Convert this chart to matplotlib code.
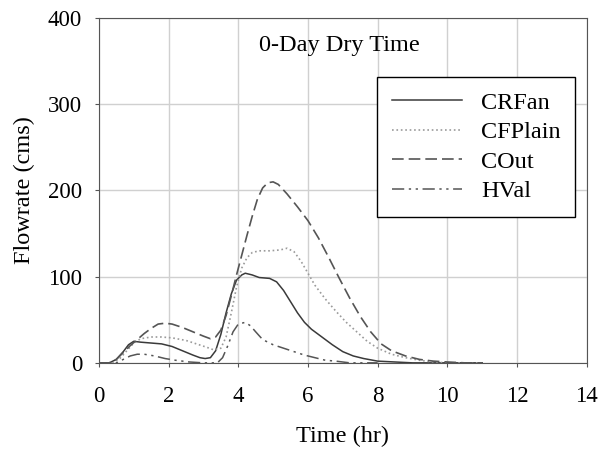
import matplotlib
matplotlib.use('Agg')
import matplotlib.pyplot as plt

plt.rcParams['font.family'] = ['Liberation Serif', 'DejaVu Serif']

# Hydrographs (time in hr, flowrate in cms)
t_crfan = [0.0, 0.3, 0.5, 0.7, 0.85, 1.0, 1.2, 1.5, 1.8, 2.1, 2.4, 2.7, 2.9, 3.05, 3.2, 3.35, 3.5, 3.65, 3.8, 3.95, 4.1, 4.2, 4.4, 4.6, 4.9, 5.1, 5.3, 5.5, 5.7, 5.9, 6.1, 6.4, 6.7, 7.0, 7.3, 7.6, 8.0, 8.5, 9.0, 10.0, 11.0]
q_crfan = [0, 0, 4, 13, 21, 25, 24, 23, 22, 19, 14, 9, 6, 5, 6, 14, 33, 58, 80, 96, 102, 104, 102, 99, 98, 94, 84, 71, 58, 47, 39, 30, 21, 13, 8, 5, 2, 1, 0, 0, 0]

t_cfplain = [0.0, 0.4, 0.6, 0.8, 1.0, 1.2, 1.5, 1.8, 2.1, 2.5, 2.8, 3.1, 3.3, 3.5, 3.65, 3.8, 3.95, 4.1, 4.25, 4.4, 4.6, 4.9, 5.2, 5.4, 5.6, 5.8, 6.0, 6.2, 6.5, 6.8, 7.1, 7.4, 7.7, 8.0, 8.4, 8.8, 9.2, 9.6, 10.0, 11.0]
q_cfplain = [0, 0, 5, 14, 23, 28, 30, 30, 29, 26, 22, 18, 15, 17, 30, 58, 88, 110, 122, 128, 130, 130, 131, 133, 129, 118, 104, 90, 74, 60, 47, 36, 25, 17, 10, 6, 3, 1, 0, 0]

t_cout = [0.0, 0.3, 0.5, 0.7, 0.9, 1.1, 1.3, 1.5, 1.7, 1.9, 2.1, 2.4, 2.7, 3.0, 3.2, 3.35, 3.5, 3.65, 3.8, 3.95, 4.1, 4.25, 4.4, 4.55, 4.7, 4.85, 5.0, 5.15, 5.4, 5.7, 6.0, 6.3, 6.6, 6.9, 7.2, 7.5, 7.8, 8.1, 8.4, 8.8, 9.2, 9.6, 10.0, 10.5, 11.0]
q_cout = [0, 0, 4, 12, 20, 27, 34, 40, 45, 46, 45, 41, 36, 31, 28, 30, 38, 55, 78, 102, 125, 148, 170, 190, 203, 209, 210, 207, 196, 181, 165, 145, 122, 98, 75, 54, 36, 22, 14, 8, 4, 2, 1, 0, 0]

t_hval = [0.0, 0.5, 0.7, 0.9, 1.1, 1.3, 1.6, 1.9, 2.2, 2.6, 3.0, 3.4, 3.55, 3.7, 3.85, 4.0, 4.2, 4.35, 4.5, 4.7, 5.0, 5.3, 5.6, 5.9, 6.2, 6.5, 6.8, 7.2, 8.0]
q_hval = [0, 0, 4, 8, 10, 10, 8, 5, 3, 1, 0, 0, 6, 20, 36, 45, 47, 43, 36, 27, 21, 17, 13, 9, 6, 3, 2, 0, 0]

fig = plt.figure(figsize=(6.03, 4.53), dpi=100)
ax = fig.add_axes([0.164, 0.199, 0.809, 0.761])

ax.plot(t_crfan, q_crfan, '-', color='#3a3a3a', lw=1.1, label='CRFan')
ax.plot(t_cfplain, q_cfplain, ':', color='#9a9a9a', lw=1.2, label='CFPlain')
ax.plot(t_cout, q_cout, color='#555555', lw=1.2, dashes=(7, 3), label='COut')
ax.plot(t_hval, q_hval, color='#555555', lw=1.1, dashes=(8, 3, 1.5, 3, 1.5, 3), label='HVal')

ax.set_xlim(0, 14)
ax.set_ylim(0, 400)
ax.set_xticks(range(0, 15, 2))
ax.set_yticks(range(0, 401, 100))
ax.grid(True, color='#d0d0d0', lw=1.0)
ax.set_axisbelow(True)
ax.tick_params(labelsize=16.5, direction='out', length=3, color='#555555')
ax.tick_params(axis='x', pad=14)
ax.tick_params(axis='y', pad=9)
for s in ax.spines.values():
    s.set_color('#555555')
ax.set_xlabel('Time (hr)', fontsize=17.5, labelpad=13)
ax.set_ylabel('Flowrate (cms)', fontsize=17.5, labelpad=9)

ax.text(6.9, 368, '0-Day Dry Time', fontsize=17.5, ha='center', va='center')

leg = ax.legend(loc='upper left', bbox_to_anchor=(0.570, 0.829), fontsize=17.5,
                frameon=True, fancybox=False, edgecolor='black', framealpha=1,
                handlelength=2.9, handletextpad=0.78, labelspacing=0.31,
                borderpad=0.6, borderaxespad=0)
leg.get_frame().set_linewidth(1.0)

fig.savefig('out.png', dpi=100)
